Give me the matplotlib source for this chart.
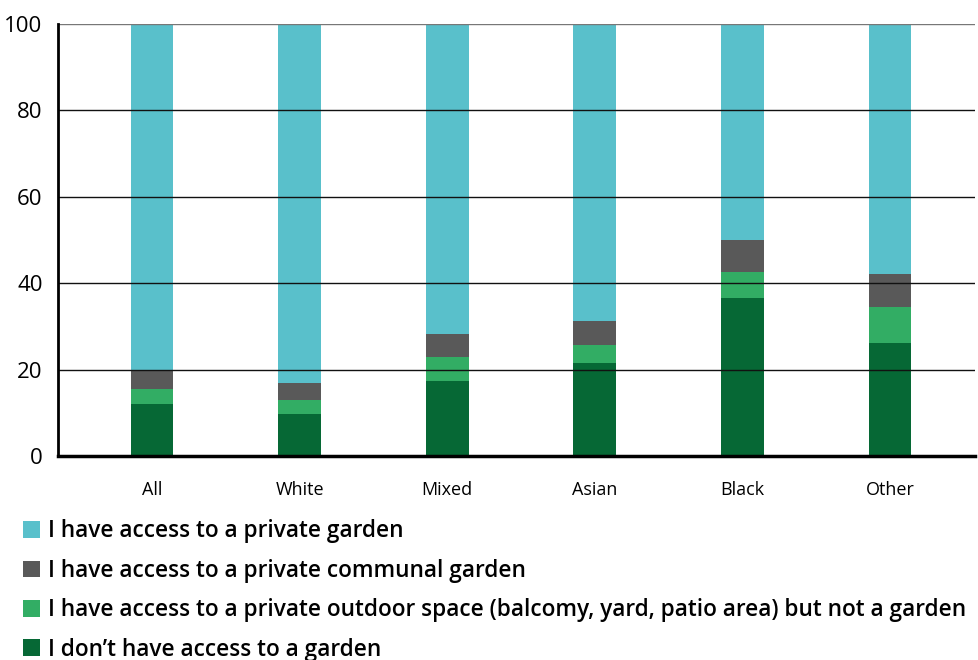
import matplotlib.pyplot as plt
import numpy as np

plt.rcParams['font.family'] = ['Open Sans', 'DejaVu Sans']

groups = ["All", "White", "Mixed", "Asian", "Black", "Other"]

# % of respondents in each group (stacked bottom to top)
no_garden = [12.0, 9.7, 17.4, 21.5, 36.6, 26.2]
outdoor_space = [3.5, 3.3, 5.5, 4.2, 6.0, 8.3]
communal_garden = [4.5, 3.9, 5.3, 5.6, 7.4, 7.6]
private_garden = [80.0, 83.1, 71.8, 68.7, 50.0, 57.9]

labels = [
    "I don\u2019t have access to a garden",
    "I have access to a private outdoor space (balcomy, yard, patio area) but not a garden",
    "I have access to a private communal garden",
    "I have access to a private garden",
]
colors = ["#066835", "#32AD64", "#595959", "#59C0CB"]

fig = plt.figure(figsize=(9.79, 6.60), dpi=100)
ax = fig.add_axes([0.0592, 0.309, 0.9368, 0.6546])

x = np.arange(len(groups))
bottom = np.zeros(len(groups))
handles = []
for vals, col, lab in zip([no_garden, outdoor_space, communal_garden, private_garden], colors, labels):
    b = ax.bar(x, vals, width=0.29, bottom=bottom, color=col, label=lab, zorder=1)
    handles.append(b)
    bottom += np.array(vals)

for yv in [20, 40, 60, 80]:
    ax.axhline(yv, color="#111111", lw=1.0, zorder=3)
ax.axhline(100, color="#777777", lw=1.0, zorder=3)

ax.set_ylim(0, 100)
ax.set_xlim(-0.637, 5.576)
ax.set_yticks([0, 20, 40, 60, 80, 100])
ax.set_xticks(x)
ax.set_xticklabels(groups, fontsize=13)
ax.tick_params(axis="y", labelsize=16, length=0, pad=11)
ax.tick_params(axis="x", length=0, pad=18)

for s in ["top", "right"]:
    ax.spines[s].set_visible(False)
ax.spines["left"].set_linewidth(2)
ax.spines["bottom"].set_linewidth(2.5)
ax.spines["left"].set_zorder(4)
ax.spines["bottom"].set_zorder(4)

fig.legend(handles[::-1], labels[::-1], loc="upper left", bbox_to_anchor=(0.023, 0.213),
           frameon=False, prop={"weight": "semibold", "size": 16.3},
           handlelength=0.76, handleheight=0.76, handletextpad=0.36, labelspacing=0.68,
           borderaxespad=0, borderpad=0)

fig.savefig("out.png", dpi=100)
